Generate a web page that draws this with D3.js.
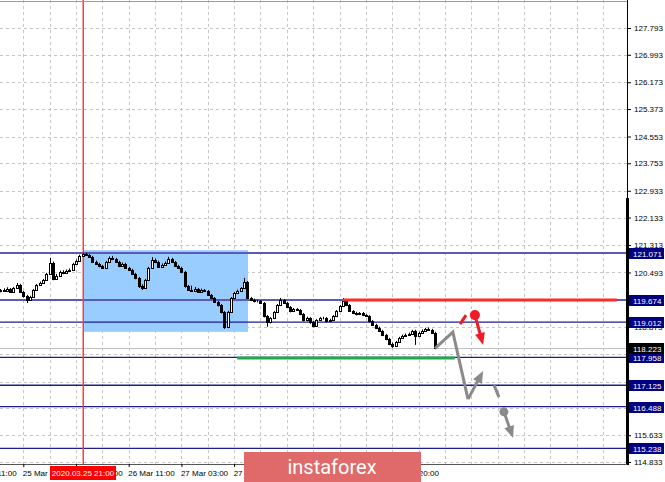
<!DOCTYPE html>
<html><head><meta charset="utf-8">
<script src="https://cdn.jsdelivr.net/npm/d3@7"></script>
<style>body{margin:0;background:#fff;} svg{display:block;}</style>
</head><body><svg id="c" width="665" height="482"></svg>
<script>
// ---------- data ----------
const opens = [119.94,119.97,119.94,120.00,119.91,120.03,120.12,119.91,119.79,119.67,
119.76,119.97,120.12,120.18,120.27,120.45,120.78,120.30,120.39,120.51,
120.48,120.54,120.57,120.75,120.84,120.99,121.05,121.02,120.96,120.81,
120.75,120.69,120.63,120.81,120.93,120.90,120.81,120.69,120.75,120.63,
120.57,120.45,120.33,120.09,120.03,120.27,120.63,120.87,120.81,120.66,
120.72,120.78,120.90,120.81,120.69,120.63,120.51,120.09,119.97,119.94,
120.00,119.91,119.97,119.94,119.82,119.73,119.61,119.52,119.31,118.87,
119.31,119.73,119.88,119.94,120.03,120.21,119.73,119.67,119.64,119.64,
119.58,119.19,119.01,119.13,119.31,119.52,119.67,119.58,119.46,119.34,
119.40,119.37,119.25,119.07,119.13,119.01,118.90,119.07,119.13,119.13,
119.04,119.07,119.19,119.34,119.49,119.64,119.52,119.34,119.28,119.25,
119.28,119.22,119.19,119.04,118.93,118.84,118.75,118.63,118.51,118.36,
118.30,118.42,118.54,118.60,118.63,118.66,118.75,118.60,118.69,118.75,
118.81,118.78,118.69];
const closes = [119.97,119.94,120.00,119.91,120.03,120.12,119.91,119.79,119.67,119.76,
119.97,120.12,120.18,120.27,120.45,120.78,120.30,120.39,120.51,120.48,
120.54,120.57,120.75,120.84,120.99,121.05,121.02,120.96,120.81,120.75,
120.69,120.63,120.81,120.93,120.90,120.81,120.69,120.75,120.63,120.57,
120.45,120.33,120.09,120.03,120.27,120.63,120.87,120.81,120.66,120.72,
120.78,120.90,120.81,120.69,120.63,120.51,120.09,119.97,119.94,120.00,
119.91,119.97,119.94,119.82,119.73,119.61,119.52,119.31,118.87,119.31,
119.73,119.88,119.94,120.03,120.21,119.73,119.67,119.64,119.64,119.58,
119.19,119.01,119.13,119.31,119.52,119.67,119.58,119.46,119.34,119.40,
119.37,119.25,119.07,119.13,119.01,118.90,119.07,119.13,119.13,119.04,
119.07,119.19,119.34,119.49,119.64,119.52,119.34,119.28,119.25,119.28,
119.22,119.19,119.04,118.93,118.84,118.75,118.63,118.51,118.36,118.30,
118.42,118.54,118.60,118.63,118.66,118.75,118.60,118.69,118.75,118.81,
118.78,118.69,118.223];
const highs = [120.00,120.02,120.05,120.03,120.06,120.18,120.15,119.94,119.82,119.80,
120.00,120.15,120.22,120.30,120.48,120.93,120.82,120.45,120.55,120.56,
120.58,120.61,120.78,120.88,121.02,121.08,121.09,121.05,120.99,120.85,
120.78,120.72,120.84,120.97,120.99,120.93,120.84,120.79,120.78,120.66,
120.60,120.48,120.36,120.14,120.30,120.66,120.95,120.91,120.84,120.76,
120.82,120.96,120.93,120.84,120.72,120.66,120.54,120.12,120.10,120.06,
120.03,120.01,120.00,119.97,119.85,119.76,119.64,119.55,119.34,119.35,
119.76,119.91,119.98,120.06,120.33,120.24,119.76,119.71,119.68,119.67,
119.61,119.22,119.16,119.34,119.55,119.73,119.70,119.61,119.49,119.43,
119.43,119.40,119.28,119.17,119.16,119.04,119.10,119.16,119.17,119.16,
119.11,119.22,119.37,119.52,119.73,119.67,119.55,119.37,119.32,119.31,
119.31,119.25,119.22,119.07,118.96,118.87,118.78,118.66,118.54,118.40,
118.45,118.57,118.64,118.67,118.70,118.78,118.78,118.72,118.79,118.84,
118.85,118.81,118.72];
const lows = [119.90,119.91,119.92,119.88,119.89,120.01,119.88,119.74,119.58,119.64,
119.73,119.95,120.10,120.16,120.25,120.42,120.26,120.27,120.36,120.44,
120.45,120.51,120.54,120.72,120.81,120.96,120.99,120.93,120.78,120.72,
120.65,120.60,120.60,120.78,120.86,120.78,120.65,120.66,120.60,120.54,
120.42,120.29,120.03,119.97,120.00,120.24,120.60,120.77,120.63,120.63,
120.69,120.75,120.78,120.66,120.60,120.47,120.04,119.94,119.91,119.91,
119.88,119.88,119.91,119.79,119.70,119.58,119.48,119.27,118.81,118.83,
119.28,119.70,119.85,119.91,120.00,119.70,119.64,119.60,119.60,119.55,
119.15,118.87,118.97,119.10,119.28,119.49,119.55,119.43,119.30,119.31,
119.34,119.22,119.03,119.04,118.96,118.86,118.87,119.04,119.09,119.00,
119.01,119.04,119.16,119.31,119.46,119.49,119.31,119.25,119.21,119.22,
119.19,119.16,119.00,118.90,118.80,118.72,118.59,118.47,118.32,118.24,
118.27,118.39,118.51,118.57,118.60,118.63,118.33,118.57,118.66,118.72,
118.75,118.66,118.20];

const priceTicks = [127.793,126.993,126.173,125.373,124.553,123.753,122.933,122.133,121.313,120.493,119.673,118.873,118.053,117.233,116.433,115.633,114.833];
const hiddenTickLabels = [119.673,118.053,116.433]; // fully covered by level boxes in the reference
const timeTickBars = [-9,7,23,39,55,71,87,103,119];
const timeTickLabels = ["24 Mar 11:00","25 Mar 03:00","25 Mar 19:00","26 Mar 11:00","27 Mar 03:00","27 Mar 19:00","","","31 Mar 20:00"];
const levels = [121.071,119.674,119.012,117.958,117.125,116.488,115.238];
const strongLevels = [121.071,119.674];
const currentPrice = 118.223;
const markerBar = 25, markerLabel = "2020.03.25 21:00";
const zoneBars = [25.4, 75.2], zonePrices = [121.16, 118.72];
const redLineBars = [104, 187.2], redLinePrice = 119.674;
const greenLineBars = [71.9, 138], greenLinePrice = 117.94;
const grayPathBars = [132, 137.4, 142, 146.6], grayPathPrices = [118.223, 118.71, 116.71, 117.55];
const grayDashBars = [149.9, 151.4], grayDashPrices = [117.13, 116.77];
const grayDotBar = 152.9, grayDotPrice = 116.33, grayArrowEnd = [155.7, 115.55];
const redDashBars = [139.6, 141.4], redDashPrices = [118.95, 119.22];
const redDotBar = 144.1, redDotPrice = 119.22, redArrowEnd = [146.6, 118.33];

// ---------- scales ----------
const W = 665, H = 482, PR = 627, PB = 464;
const x = d3.scaleLinear().domain([0, 132]).range([0.25, 435.06]);
const y = d3.scaleLinear().domain([114.833, 127.793]).range([462, 28]);
const svg = d3.select("#c");
svg.append("defs").append("clipPath").attr("id","clip")
  .append("rect").attr("x",0).attr("y",0).attr("width",PR).attr("height",PB);
const g = svg.append("g").attr("clip-path","url(#clip)");

// grid
const gridBars = d3.range(7, 190, 8);
g.selectAll("line.vg").data(gridBars).enter().append("line")
  .attr("x1", d=>Math.round(x(d))+0.5).attr("x2", d=>Math.round(x(d))+0.5)
  .attr("y1", 0).attr("y2", PB).attr("stroke","#c6c6c6").attr("stroke-dasharray","3,3");
g.selectAll("line.hg").data(priceTicks).enter().append("line")
  .attr("x1",0).attr("x2",PR).attr("y1",d=>Math.round(y(d))+0.5).attr("y2",d=>Math.round(y(d))+0.5)
  .attr("stroke","#c6c6c6").attr("stroke-dasharray","3,3");

// zone
g.append("rect").attr("x", x(zoneBars[0])).attr("width", x(zoneBars[1])-x(zoneBars[0]))
  .attr("y", y(zonePrices[0])).attr("height", y(zonePrices[1])-y(zonePrices[0]))
  .attr("fill","#99ccff");

// current price line
g.append("line").attr("x1",0).attr("x2",PR).attr("y1",Math.round(y(currentPrice))+0.5).attr("y2",Math.round(y(currentPrice))+0.5)
  .attr("stroke","#c0c0c0");

// levels
g.selectAll("line.lv").data(levels).enter().append("line")
  .attr("x1",0).attr("x2",PR).attr("y1",d=>y(d)).attr("y2",d=>y(d))
  .attr("stroke", d=> strongLevels.includes(d) ? "#5a5ab8" : "#1e1e90")
  .attr("stroke-width", d=> strongLevels.includes(d) ? 2 : 1.3);

// red vertical marker
g.append("rect").attr("x",Math.round(x(markerBar))-0.5).attr("width",1.5)
  .attr("y",0).attr("height",PB).attr("fill","#ff3c3c");

// candles
const idx = d3.range(closes.length);
const cg = g.append("g");
idx.forEach(i=>{
  const cx = Math.round(x(i));
  cg.append("line").attr("x1",cx+0.5).attr("x2",cx+0.5)
    .attr("y1",y(highs[i])).attr("y2",y(lows[i])).attr("stroke","#000").attr("stroke-width",1);
  const top = Math.round(y(Math.max(opens[i],closes[i])));
  const bot = Math.round(y(Math.min(opens[i],closes[i])));
  const up = closes[i] >= opens[i];
  cg.append("rect").attr("x",cx-0.5).attr("width",2)
    .attr("y",top+0.5).attr("height",Math.max(0,bot-top))
    .attr("fill", up ? "#fff" : "#000").attr("stroke","#000").attr("stroke-width",1);
});

// red resistance line
g.append("line").attr("x1",x(redLineBars[0])).attr("x2",x(redLineBars[1]))
  .attr("y1",y(redLinePrice)).attr("y2",y(redLinePrice)).attr("stroke","#ff2a2a").attr("stroke-width",3);
// green support line
g.append("line").attr("x1",x(greenLineBars[0])).attr("x2",x(greenLineBars[1]))
  .attr("y1",y(greenLinePrice)).attr("y2",y(greenLinePrice)).attr("stroke","#23a84a").attr("stroke-width",3);

// arrows
function arrow(group, x1,y1,x2,y2,color,len,wid){
  const dx=x2-x1, dy=y2-y1, L=Math.hypot(dx,dy), ux=dx/L, uy=dy/L;
  const bx=x2-ux*len, by=y2-uy*len;
  group.append("line").attr("x1",x1).attr("y1",y1).attr("x2",bx+ux*2).attr("y2",by+uy*2)
    .attr("stroke",color).attr("stroke-width",3);
  group.append("path").attr("d",`M${x2},${y2}L${bx-uy*wid},${by+ux*wid}L${bx+uy*wid},${by-ux*wid}Z`).attr("fill",color);
}
const ag = g.append("g");
const gp = grayPathBars.map((b,i)=>[x(b), y(grayPathPrices[i])]);
ag.append("path").attr("d", d3.line()(gp.slice(0,3))).attr("fill","none")
  .attr("stroke","#8a8a8a").attr("stroke-width",3).attr("stroke-linejoin","miter");
arrow(ag, gp[2][0],gp[2][1], gp[3][0],gp[3][1], "#8a8a8a", 12, 5);
ag.append("line").attr("x1",x(grayDashBars[0])).attr("y1",y(grayDashPrices[0]))
  .attr("x2",x(grayDashBars[1])).attr("y2",y(grayDashPrices[1])).attr("stroke","#8a8a8a").attr("stroke-width",3);
arrow(ag, x(grayDotBar),y(grayDotPrice), x(grayArrowEnd[0]),y(grayArrowEnd[1]), "#8a8a8a", 12, 5);
ag.append("circle").attr("cx",x(grayDotBar)).attr("cy",y(grayDotPrice)).attr("r",4.5).attr("fill","#8a8a8a");
ag.append("line").attr("x1",x(redDashBars[0])).attr("y1",y(redDashPrices[0]))
  .attr("x2",x(redDashBars[1])).attr("y2",y(redDashPrices[1])).attr("stroke","#ee1c24").attr("stroke-width",3);
arrow(ag, x(redDotBar),y(redDotPrice), x(redArrowEnd[0]),y(redArrowEnd[1]), "#ee1c24", 12, 5);
ag.append("circle").attr("cx",x(redDotBar)).attr("cy",y(redDotPrice)).attr("r",5).attr("fill","#ee1c24");

// frame
svg.append("line").attr("x1",0).attr("x2",PR).attr("y1",1.5).attr("y2",1.5).attr("stroke","#9a9a9a");
svg.append("line").attr("x1",PR+0.5).attr("x2",PR+0.5).attr("y1",0).attr("y2",PB+1).attr("stroke","#000");
svg.append("line").attr("x1",PR+0.5).attr("x2",PR+0.5).attr("y1",198).attr("y2",PB+1).attr("stroke","#000").attr("stroke-width",3);
svg.append("line").attr("x1",0).attr("x2",PR).attr("y1",PB+0.5).attr("y2",PB+0.5).attr("stroke","#555");

// right axis
const font = "Liberation Sans, Arial, sans-serif";
const ya = svg.append("g").attr("transform",`translate(${PR},0)`)
  .call(d3.axisRight(y).tickValues(priceTicks)
    .tickFormat(d=> hiddenTickLabels.includes(d) ? "" : d.toFixed(3)).tickSize(4).tickPadding(3));
ya.select(".domain").remove();
ya.selectAll("text").attr("font-family",font).attr("font-size","8px").attr("fill","#000");
ya.selectAll("line").attr("stroke","#000");

// level labels
const lb = svg.append("g");
const boxLevels = levels.concat([currentPrice]);
boxLevels.forEach(p=>{
  const yy = Math.round(y(p));
  lb.append("rect").attr("x",PR+2).attr("y",yy-5).attr("width",35).attr("height",11)
    .attr("fill", p===currentPrice ? "#000" : "#000080");
  lb.append("text").attr("x",PR+6).attr("y",yy+3.5).attr("font-family",font).attr("font-size","8px")
    .attr("fill","#fff").text(p.toFixed(3));
});

// bottom axis
const xa = svg.append("g").attr("transform",`translate(0,${PB})`)
  .call(d3.axisBottom(x).tickValues(timeTickBars).tickFormat((d,i)=>timeTickLabels[i]).tickSize(3).tickPadding(3));
xa.select(".domain").remove();
xa.selectAll("line").attr("stroke","#000");
xa.selectAll("text").attr("text-anchor","start").attr("x",-1)
  .attr("font-family",font).attr("font-size","8px").attr("fill","#000");

// marker time label
const mx = Math.round(x(markerBar));
svg.append("rect").attr("x",mx-33).attr("y",PB+2).attr("width",66).attr("height",14).attr("fill","#ff0000");
svg.append("text").attr("x",mx).attr("y",PB+12).attr("text-anchor","middle")
  .attr("font-family",font).attr("font-size","8px").attr("fill","#fff").text(markerLabel);

// logo
svg.append("rect").attr("x",244).attr("y",452).attr("width",177).attr("height",30).attr("fill","#e06a6a");
svg.append("text").attr("x",332).attr("y",474).attr("text-anchor","middle")
  .attr("font-family","Roboto, 'Open Sans', sans-serif").attr("font-weight",400)
  .attr("font-size","20px").attr("fill","#fff").text("instaforex");
</script></body></html>
